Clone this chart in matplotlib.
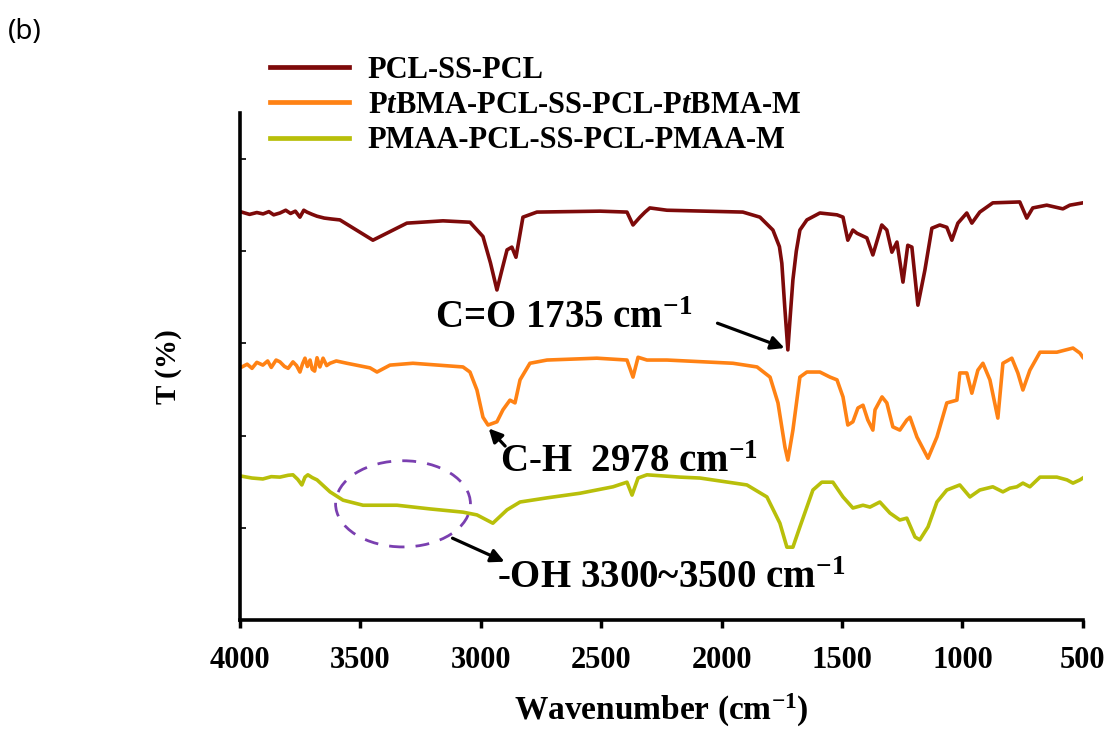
import matplotlib
matplotlib.use('Agg')
import matplotlib.pyplot as plt
from matplotlib.patches import Ellipse

# Wavenumber (cm-1) and transmittance readings for each spectrum
pcl_wn = [3993, 3960, 3930, 3904, 3880, 3860, 3834, 3810, 3790, 3770, 3751, 3735, 3722,
          3700, 3680, 3650, 3620, 3585, 3448, 3307, 3157, 3045, 2991, 2960, 2933,
          2912, 2891, 2871, 2854, 2825, 2767, 2505, 2393, 2368, 2339, 2318, 2298, 2227,
          1912, 1841, 1787, 1760, 1750, 1738, 1725, 1715, 1704, 1690, 1675, 1646, 1592,
          1521, 1496, 1476, 1455, 1438, 1397, 1372, 1335, 1314, 1293, 1272, 1247, 1227,
          1210, 1185, 1156, 1127, 1094, 1065, 1044, 1019, 982, 961, 928, 874, 762, 733,
          708, 650, 583, 554, 500]
pcl_t = [88.5, 88.0, 88.4, 88.1, 88.6, 87.9, 88.3, 88.9, 88.2, 88.7, 87.4, 88.9, 88.5,
         88.0, 87.6, 87.2, 87.0, 86.8, 82.4, 86.1, 86.6, 86.3, 83.2, 77.5, 71.6,
         76.0, 80.3, 80.9, 78.7, 87.4, 88.5, 88.7, 88.5, 85.7, 87.4, 88.5, 89.4, 88.9,
         88.5, 87.4, 84.6, 81.0, 77.4, 68.0, 58.6, 66.0, 73.8, 80.0, 84.6, 86.8, 88.3,
         87.9, 87.4, 82.4, 84.6, 83.9, 82.9, 79.2, 85.7, 84.6, 79.8, 82.0, 73.3, 81.3,
         80.9, 68.3, 75.9, 85.0, 85.7, 85.2, 82.4, 86.1, 88.3, 86.1, 88.5, 90.5, 90.7,
         87.2, 89.4, 90.0, 89.2, 90.0, 90.5]

ptbma_wn = [3992, 3970, 3950, 3930, 3905, 3885, 3870, 3850, 3834, 3815, 3800, 3780, 3765,
            3751, 3740, 3730, 3720, 3709, 3700, 3690, 3680, 3668, 3655, 3640, 3626, 3600,
            3556, 3460, 3431, 3377, 3282, 3074, 3045, 3016, 2991, 2970, 2933, 2908, 2879,
            2858, 2837, 2796, 2725, 2518, 2393, 2368, 2347, 2310, 2227, 1953, 1853, 1799,
            1766, 1737, 1725, 1704, 1675, 1646, 1592, 1550, 1521, 1496, 1476, 1455, 1434,
            1413, 1393, 1372, 1363, 1334, 1314, 1289, 1260, 1231, 1218, 1189, 1143, 1106,
            1065, 1023, 1011, 982, 961, 936, 915, 886, 853, 832, 795, 770, 749, 720, 678,
            608, 541, 512, 500]
ptbma_t = [54.9, 55.5, 54.6, 55.9, 55.3, 56.2, 54.8, 56.4, 56.0, 55.0, 54.6, 56.0, 55.2,
           53.8, 55.6, 56.8, 55.0, 56.4, 54.4, 54.0, 56.9, 54.9, 56.8, 55.2, 55.7, 56.2,
           55.7, 54.7, 53.8, 55.3, 55.7, 54.9, 53.8, 49.9, 44.0, 42.3, 43.0, 45.6, 47.7,
           47.1, 52.1, 55.7, 56.4, 56.8, 56.4, 52.7, 57.0, 56.4, 56.4, 55.7, 54.9, 52.7,
           47.1, 37.5, 34.7, 41.2, 52.7, 53.8, 53.8, 52.7, 52.1, 48.4, 42.3, 43.0, 46.0,
           46.6, 43.4, 41.2, 45.6, 48.4, 47.1, 41.9, 41.2, 43.4, 44.0, 39.7, 35.1, 39.7,
           47.1, 47.7, 53.6, 53.6, 49.2, 54.2, 55.7, 52.1, 43.8, 55.7, 56.8, 53.6, 49.9,
           54.2, 58.1, 58.1, 59.0, 57.9, 57.0]

pmaa_wn = [3993, 3950, 3905, 3870, 3834, 3800, 3780, 3760, 3743, 3730, 3718, 3700, 3680,
           3626, 3572, 3489, 3348, 3211, 3074, 3016, 2950, 2891, 2837, 2725, 2588, 2451,
           2393, 2372, 2347, 2310, 2173, 2090, 1895, 1812, 1758, 1729, 1704, 1675, 1621,
           1584, 1538, 1496, 1455, 1413, 1384, 1343, 1301, 1260, 1231, 1197, 1177, 1143,
           1106, 1065, 1011, 969, 928, 874, 832, 803, 774, 749, 720, 678, 608, 566, 541,
           512, 500]
pmaa_t = [31.2, 30.8, 30.6, 31.1, 31.0, 31.4, 31.5, 30.5, 29.3, 31.0, 31.5, 30.9, 30.4,
          27.8, 26.0, 24.9, 24.9, 24.1, 23.4, 22.8, 21.0, 23.9, 25.6, 26.5, 27.5, 28.9,
          29.9, 27.1, 30.8, 31.5, 31.0, 30.8, 29.3, 26.7, 21.0, 15.8, 15.8, 20.2, 28.2,
          29.9, 29.9, 26.7, 24.3, 24.9, 24.5, 25.6, 23.2, 21.7, 22.1, 18.0, 17.4, 20.2,
          25.6, 28.2, 29.3, 26.7, 28.2, 28.9, 27.8, 28.6, 28.9, 29.7, 28.9, 31.0, 31.0,
          30.4, 29.7, 30.4, 30.8]

labels = ['PCL-SS-PCL',
          'P$\\mathit{t}$BMA-PCL-SS-PCL-P$\\mathit{t}$BMA-M',
          'PMAA-PCL-SS-PCL-PMAA-M']
colors = ['#7d0a0a', '#ff8214', '#b8bf0a']
x_ticks = [4000, 3500, 3000, 2500, 2000, 1500, 1000, 500]

plt.rcParams['font.family'] = ['Liberation Serif', 'DejaVu Serif']
plt.rcParams['font.weight'] = 'bold'
plt.rcParams['mathtext.fontset'] = 'custom'
plt.rcParams['mathtext.rm'] = 'Liberation Serif:bold'
plt.rcParams['mathtext.bf'] = 'Liberation Serif:bold'
plt.rcParams['mathtext.it'] = 'Liberation Serif:italic:bold'
plt.rcParams['mathtext.default'] = 'bf'

fig = plt.figure(figsize=(11.12, 7.36), dpi=100)
ax = fig.add_axes([0.2158, 0.1576, 0.758, 0.6889])

# the three spectra
for wn, t, lab, c in zip([pcl_wn, ptbma_wn, pmaa_wn], [pcl_t, ptbma_t, pmaa_t], labels, colors):
    ax.plot(wn, t, color=c, lw=2.6, label=lab, solid_joinstyle='round')

ax.set_xlim(4000, 500)
ax.set_ylim(0, 110)
ax.set_xticks(x_ticks)
ax.set_yticks([20, 40, 60, 80, 100])
ax.set_yticklabels([])
ax.tick_params(axis='x', direction='out', length=6, width=2.5, labelsize=22, pad=13)
ax.tick_params(axis='y', direction='in', length=4, width=1.2)
for lbl in ax.get_xticklabels():
    lbl.set_fontweight('bold')

for side in ['top', 'right']:
    ax.spines[side].set_visible(False)
for side in ['left', 'bottom']:
    ax.spines[side].set_linewidth(2.6)

ax.set_xlabel('Wavenumber (cm$^{-1}$)', fontsize=24, fontweight='bold', labelpad=12)
ax.set_ylabel('T (%)', fontsize=21, fontweight='bold', labelpad=38)

# peak annotations
arrow = dict(arrowstyle='-|>', color='black', lw=2.3, mutation_scale=20)
ax.text(3190, 65.5, 'C=O 1735 cm$^{-1}$', fontsize=28, fontweight='bold', va='center')
ax.annotate('', xy=(1728, 58.8), xytext=(2028, 64.6), arrowprops=arrow)

ax.text(2920, 34.2, 'C-H  2978 cm$^{-1}$', fontsize=28, fontweight='bold', va='center')
ax.annotate('', xy=(2975, 42.0), xytext=(2891, 37.3), arrowprops=arrow)

ax.text(2933, 9.0, '-OH 3300~3500 cm$^{-1}$', fontsize=28, fontweight='bold', va='center')
ax.annotate('', xy=(2891, 12.4), xytext=(3128, 18.0), arrowprops=arrow)

ax.add_patch(Ellipse((3323, 25.2), 560, 18.7, fill=False, edgecolor='#7a3fb0',
                     lw=2.0, linestyle=(0, (5, 4))))

ax.legend(loc='upper left', bbox_to_anchor=(270 / 1112, 1 - 56 / 736),
          bbox_transform=fig.transFigure, frameon=False,
          handlelength=2.6, handletextpad=0.6, labelspacing=0.2,
          borderpad=0, borderaxespad=0, prop={'weight': 'bold', 'size': 22})
for line in ax.get_legend().get_lines():
    line.set_linewidth(3.4)

fig.text(8 / 1112, 1 - 32 / 736, '(b)', fontsize=20, family='Noto Sans',
         fontweight='normal', va='center')

fig.savefig('out.png', dpi=100)
